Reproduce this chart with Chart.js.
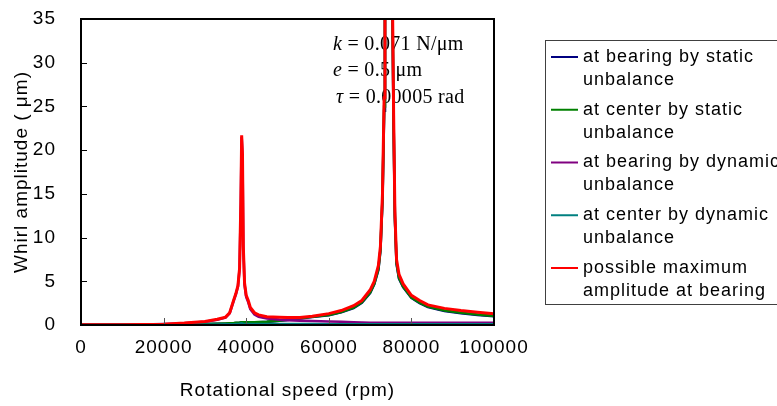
<!DOCTYPE html>
<html>
<head>
<meta charset="utf-8">
<style>
  body { margin: 0; background: #fff; }
  #chart { display: block; }
</style>
<script src="https://cdn.jsdelivr.net/npm/chart.js@4.4.1/dist/chart.umd.min.js"></script>
</head>
<body>
<canvas id="chart" width="777" height="406"></canvas>
<script>
// rotational speed samples (rpm), denser around the two critical speeds
const speeds = [
  0, 5000, 10000, 15000, 20000, 25000, 30000, 33000,
  35000, 36000, 37000, 37500, 38000, 38400, 38700, 38900, 39100, 39300, 39600, 40000, 40500, 41000, 42000, 43000, 45000,
  48000, 50000, 53000, 56000, 60000, 63000, 66000, 68000,
  70000, 71000, 72000, 72500, 73000, 73400, 73600, 74500, 75400, 75700, 76000, 76400, 77000, 78000, 80000, 82000, 84000, 88000, 92000, 96000, 100000
];

// whirl amplitudes (um)
const bearingStatic = [
  0.01, 0.01, 0.02, 0.03, 0.05, 0.07, 0.1, 0.13,
  0.15, 0.17, 0.19, 0.21, 0.23, 0.25, 0.27, 0.28, 0.28, 0.27, 0.27, 0.27, 0.27, 0.28, 0.3, 0.32, 0.36,
  0.48, 0.58, 0.75, 0.92, 1.12, 1.45, 1.95, 2.55,
  3.65, 4.65, 6.3, 8.5, 14.3, 24.5, 36.5, 57, 36.5, 22.6, 12.3, 7.0, 5.3, 4.35, 3.1, 2.5, 2.05, 1.6, 1.35, 1.15, 1.0
];
const centerStatic = [
  0.02, 0.02, 0.03, 0.04, 0.06, 0.08, 0.12, 0.15,
  0.18, 0.2, 0.22, 0.24, 0.26, 0.28, 0.3, 0.32, 0.32, 0.3, 0.3, 0.3, 0.3, 0.3, 0.32, 0.34, 0.38,
  0.5, 0.6, 0.78, 0.95, 1.15, 1.5, 2.0, 2.6,
  3.7, 4.7, 6.4, 8.6, 14.5, 25, 37, 58, 37, 23, 12.5, 7.1, 5.4, 4.4, 3.15, 2.55, 2.1, 1.65, 1.4, 1.2, 1.03
];
const bearingDynamic = [
  0.02, 0.02, 0.03, 0.05, 0.1, 0.2, 0.38, 0.6,
  0.85, 1.35, 2.8, 3.5, 4.4, 6.4, 13.8, 21.5, 19.3, 8.8, 4.6, 3.2, 2.6, 1.8, 1.2, 0.95, 0.75,
  0.62, 0.56, 0.5, 0.45, 0.4, 0.37, 0.32, 0.28,
  0.26, 0.26, 0.26, 0.26, 0.26, 0.26, 0.26, 0.26, 0.26, 0.26, 0.25, 0.25, 0.25, 0.25, 0.25, 0.25, 0.25, 0.25, 0.25, 0.25, 0.25
];
const centerDynamic = [
  0.01, 0.01, 0.01, 0.02, 0.03, 0.04, 0.05, 0.06,
  0.07, 0.08, 0.09, 0.1, 0.11, 0.13, 0.16, 0.18, 0.17, 0.14, 0.12, 0.11, 0.1, 0.1, 0.1, 0.1, 0.1,
  0.1, 0.1, 0.1, 0.1, 0.09, 0.09, 0.09, 0.09,
  0.08, 0.08, 0.08, 0.08, 0.08, 0.08, 0.08, 0.08, 0.08, 0.08, 0.08, 0.08, 0.08, 0.08, 0.08, 0.08, 0.08, 0.08, 0.08, 0.08, 0.08
];
const maxAtBearing = [
  0.02, 0.02, 0.03, 0.05, 0.1, 0.22, 0.4, 0.65,
  0.9, 1.4, 2.9, 3.6, 4.5, 6.5, 14, 21.7, 19.5, 9, 4.8, 3.4, 2.8, 2.0, 1.4, 1.15, 0.95,
  0.9, 0.85, 0.85, 1.0, 1.3, 1.65, 2.2, 2.8,
  4.0, 5.0, 6.8, 9.0, 15, 26, 38, 60, 38, 24, 13, 7.5, 5.8, 4.7, 3.4, 2.8, 2.3, 1.9, 1.65, 1.45, 1.28
];

const seriesLabels = [
  ["at bearing by static", "unbalance"],
  ["at center by static", "unbalance"],
  ["at bearing by dynamic", "unbalance"],
  ["at center by dynamic", "unbalance"],
  ["possible maximum", "amplitude at bearing"]
];
const seriesColors = ["#000080", "#008000", "#800080", "#008080", "#ff0000"];
const seriesValues = [bearingStatic, centerStatic, bearingDynamic, centerDynamic, maxAtBearing];

const xTicks = [0, 20000, 40000, 60000, 80000, 100000];
const yTicks = [0, 5, 10, 15, 20, 25, 30, 35];

// parameter box: [italic symbol, rest of line]
const noteLines = [
  ["k", " = 0.071 N/\u03bcm"],
  ["e", " = 0.5 \u03bcm"],
  ["\u03c4", " = 0.00005 rad"]
];

const SANS = "'Liberation Sans', Arial, sans-serif";
const SERIF = "'Liberation Serif', 'Times New Roman', serif";

const datasets = seriesValues.map((vals, i) => ({
  label: seriesLabels[i].join(" "),
  data: vals.map((v, j) => ({ x: speeds[j], y: v })),
  borderColor: seriesColors[i],
  backgroundColor: seriesColors[i],
  borderWidth: i === 4 ? 3 : 2.6,
  pointRadius: 0,
  tension: 0,
  fill: false,
  // later series sit on top, red last
  order: 4 - i
}));

const decorations = {
  id: "decorations",
  beforeDraw(chart) {
    const ctx = chart.ctx;
    ctx.save();
    ctx.fillStyle = "#fff";
    ctx.fillRect(0, 0, chart.width, chart.height);
    ctx.restore();
    ctx.letterSpacing = "1px";
  },
  beforeDatasetsDraw(chart) {
    const ctx = chart.ctx;
    ctx.save();
    ctx.letterSpacing = "0.3px";
    ctx.fillStyle = "#000";
    ctx.textBaseline = "alphabetic";
    const xs = [333, 333, 336];
    const ys = [50, 76, 103];
    noteLines.forEach((ln, i) => {
      ctx.font = "italic 20px " + SERIF;
      ctx.fillText(ln[0], xs[i], ys[i]);
      const w = ctx.measureText(ln[0]).width;
      ctx.font = "20px " + SERIF;
      ctx.fillText(ln[1], xs[i] + w, ys[i]);
    });
    ctx.restore();
  },
  afterDatasetsDraw(chart) {
    const ctx = chart.ctx;
    const a = chart.chartArea;
    const xs = chart.scales.x, ys = chart.scales.y;
    ctx.save();
    // inside tick marks
    ctx.strokeStyle = "#000";
    ctx.lineWidth = 1;
    yTicks.forEach(v => {
      const y = Math.round(ys.getPixelForValue(v)) + 0.5;
      ctx.beginPath();
      ctx.moveTo(a.left, y);
      ctx.lineTo(a.left + 6, y);
      ctx.stroke();
    });
    ctx.strokeStyle = "#555";
    xTicks.forEach(v => {
      const x = Math.round(xs.getPixelForValue(v)) + 0.5;
      ctx.beginPath();
      ctx.moveTo(x, a.bottom);
      ctx.lineTo(x, a.bottom - 7);
      ctx.stroke();
    });
    // plot frame
    ctx.strokeStyle = "#000";
    ctx.lineWidth = 2;
    ctx.strokeRect(a.left, a.top, a.right - a.left, a.bottom - a.top);
    ctx.restore();
  },
  afterDraw(chart) {
    const ctx = chart.ctx;
    ctx.save();
    ctx.strokeStyle = "#404040";
    ctx.lineWidth = 1;
    ctx.strokeRect(545.5, 40.5, 260, 264);
    ctx.font = "18px " + SANS;
    ctx.letterSpacing = "1px";
    ctx.textBaseline = "middle";
    ctx.fillStyle = "#000";
    seriesLabels.forEach((lines, i) => {
      const y = 57 + i * 52.75;
      ctx.strokeStyle = seriesColors[i];
      ctx.lineWidth = 2;
      ctx.beginPath();
      ctx.moveTo(551, y);
      ctx.lineTo(578, y);
      ctx.stroke();
      lines.forEach((t, k) => ctx.fillText(t, 583, y + k * 23));
    });
    ctx.restore();
  }
};

new Chart(document.getElementById("chart"), {
  type: "line",
  data: { datasets },
  options: {
    responsive: false,
    animation: false,
    layout: { padding: { left: 0, top: 19, right: 283, bottom: 0 } },
    plugins: {
      legend: { display: false },
      tooltip: { enabled: false }
    },
    scales: {
      x: {
        type: "linear",
        min: 0,
        max: 100000,
        afterBuildTicks(scale) { scale.ticks = xTicks.map(v => ({ value: v })); },
        afterFit(scale) {
          scale.height = 81;
          scale.paddingLeft = 0;
          scale.paddingRight = 0;
        },
        grid: { display: false },
        border: { display: false },
        ticks: {
          color: "#000",
          font: { family: SANS, size: 19 },
          padding: 3,
          maxRotation: 0,
          autoSkip: false,
          callback: v => String(v)
        },
        title: {
          display: true,
          text: "Rotational speed (rpm)",
          color: "#000",
          font: { family: SANS, size: 19 },
          padding: { top: 0, bottom: 4 }
        }
      },
      y: {
        min: 0,
        max: 35,
        afterBuildTicks(scale) { scale.ticks = yTicks.map(v => ({ value: v })); },
        afterFit(scale) {
          scale.width = 81;
          scale.paddingTop = 0;
          scale.paddingBottom = 0;
        },
        grid: { display: false },
        border: { display: false },
        ticks: {
          color: "#000",
          font: { family: SANS, size: 19 },
          padding: 17,
          callback: v => String(v)
        },
        title: {
          display: true,
          text: "Whirl amplitude ( \u03bcm)",
          color: "#000",
          font: { family: SANS, size: 19 },
          padding: { top: 10, bottom: 0 }
        }
      }
    }
  },
  plugins: [decorations]
});
</script>
</body>
</html>
